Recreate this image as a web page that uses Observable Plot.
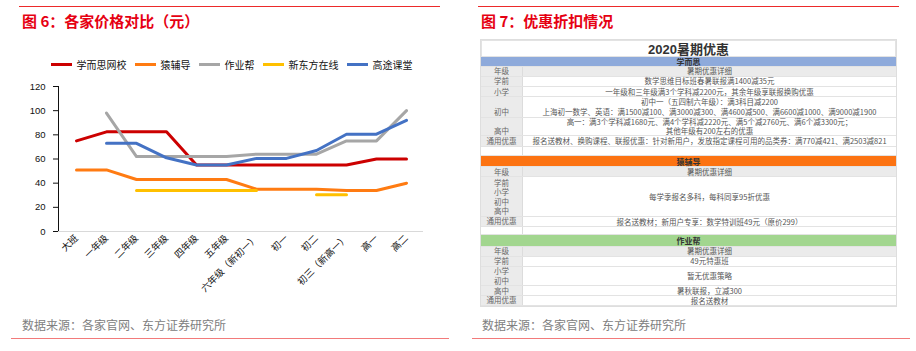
<!DOCTYPE html>
<html><head><meta charset="utf-8">
<script src="https://cdn.jsdelivr.net/npm/d3@7"></script>
<script src="https://cdn.jsdelivr.net/npm/@observablehq/plot@0.6"></script>
<style>
html,body{margin:0;padding:0;background:#fff;}
#root{position:relative;width:916px;height:351px;overflow:hidden;font-family:"Liberation Sans","Noto Sans CJK SC",sans-serif;}
.rule-top{position:absolute;height:1.5px;background:#ec2a2a;}
.rule-bot{position:absolute;height:1.5px;background:#f27a7a;}
.title{position:absolute;font-family:"Noto Sans CJK SC",sans-serif;font-weight:bold;font-size:15px;color:#e60012;line-height:20px;white-space:nowrap;}
.src{position:absolute;font-family:"Noto Sans CJK SC",sans-serif;font-size:12px;color:#808080;line-height:16px;white-space:nowrap;}
#legend{position:absolute;left:51px;top:57.5px;height:14px;display:flex;align-items:center;font-family:"Noto Sans CJK SC",sans-serif;font-size:10px;color:#111;white-space:nowrap;}
#legend .it{display:flex;align-items:center;margin-right:8.5px;}
#legend .sw{width:21px;height:3px;margin-right:4.5px;}
#chart{position:absolute;left:0;top:76px;}
#tbl{position:absolute;left:481px;top:40px;width:415px;font-family:"Noto Sans CJK SC",sans-serif;}
.row{position:absolute;left:0;width:415px;box-sizing:border-box;border-bottom:1px solid #e3e3e3;}
.lab{position:absolute;left:0;top:0;bottom:0;width:42px;background:#ebebeb;color:#666;font-size:7.5px;display:flex;flex-direction:column;justify-content:flex-end;align-items:center;line-height:9.5px;border-right:1px solid #dcdcdc;box-sizing:border-box;}
.lab.multi{justify-content:center;}
.lab div{height:9.5px;line-height:9.5px;}
.cnt{position:absolute;left:42px;right:0;top:0;bottom:0;color:#555;font-size:7.5px;display:flex;flex-direction:column;justify-content:center;align-items:center;line-height:9.5px;text-align:center;white-space:nowrap;}
.hdr{display:flex;align-items:center;justify-content:center;font-size:8px;font-weight:bold;color:#333;}
</style></head>
<body><div id="root">
  <div class="rule-top" style="left:19px;top:5.5px;width:421px;"></div>
  <div class="rule-top" style="left:478px;top:5.5px;width:421px;"></div>
  <div class="title" style="left:22px;top:10.5px;">图 6：各家价格对比（元）</div>
  <div class="title" style="left:481px;top:10.5px;">图 7：优惠折扣情况</div>
  <div id="legend"></div>
  <div id="chart"></div>
  <div id="tbl"></div>
  <div class="src" style="left:22px;top:317px;">数据来源：各家官网、东方证券研究所</div>
  <div class="src" style="left:482px;top:317px;">数据来源：各家官网、东方证券研究所</div>
  <div class="rule-bot" style="left:11px;top:337.5px;width:438px;"></div>
  <div class="rule-bot" style="left:472px;top:337.5px;width:438px;"></div>
</div>
<script>
// ---------- chart data ----------
const grades = ["大班","一年级","二年级","三年级","四年级","五年级","六年级（新初一）","初一","初二","初三（新高一）","高一","高二"];
const seriesNames = ["学而思网校","猿辅导","作业帮","新东方在线","高途课堂"];
const xueersi   = [75, 82.5, 82.5, 82.5, 55, 55, 55, 55, 55, 55, 60, 60];
const yuanfudao = [51, 51, 43, 43, 43, 43, 35, 35, 35, 34, 34, 40];
const zuoyebang = [null, 98, 62, 62, 62, 62, 64, 64, 64, 75, 75, 100];
const xdf       = [null, null, 34, 34, 34, 34, 34, null, 30.5, 30.5, null, null];
const gaotu     = [null, 73, 73, 61, 55, 55, 60.5, 60.5, 67, 80.5, 80.5, 92];
const yTicks = [0, 20, 40, 60, 80, 100, 120];
const seriesColors = ["#cc0000", "#ff7b12", "#a6a6a6", "#ffc000", "#4472c4"];

// ---------- table data ----------
const tableTitle = "2020暑期优惠";
const brands = ["学而思", "猿辅导", "作业帮"];
const headLabel = ["年级", "暑期优惠详细"];
const xesRows = [
  [["学前"], ["数学思维目标班春暑联报满1400减35元"]],
  [["小学"], ["一年级和三年级满3个学科减2200元，其余年级享联报换购优惠"]],
  [["初中"], ["初中一（五四制六年级）：满3科目减2200", "上海初一数学、英语：满1500减100、满3000减300、满4600减500、满6600减1000、满9000减1900"]],
  [["高中"], ["高一：满3个学科减1680元、满4个学科减2220元、满5个减2760元、满6个减3300元；", "其他年级有200左右的优惠"]],
  [["通用优惠"], ["报名送教材、换购课程、联报优惠：针对新用户，发放指定课程可用的品类券：满770减421、满2503减821"]]
];
const yfdRows = [
  [["学前","小学","初中","高中"], ["每学季报名多科，每科同享95折优惠"]],
  [["通用优惠"], ["报名送教材；新用户专享：数学特训班49元（原价299）"]]
];
const zybRows = [
  [["学前"], ["49元特惠班"]],
  [["小学","初中"], ["暂无优惠策略"]],
  [["高中"], ["暑秋联报，立减300"]],
  [["通用优惠"], ["报名送教材"]]
];

// ---------- legend ----------
const legend = document.getElementById("legend");
seriesNames.forEach((n, i) => {
  const it = document.createElement("div"); it.className = "it";
  const sw = document.createElement("div"); sw.className = "sw"; sw.style.background = seriesColors[i];
  const tx = document.createElement("span"); tx.textContent = n;
  it.append(sw, tx); legend.append(it);
});

// ---------- chart ----------
const seriesValues = [xueersi, yuanfudao, zuoyebang, xdf, gaotu];
const data = seriesNames.flatMap((s, i) => grades.map((g, j) => ({series: s, grade: g, value: seriesValues[i][j]})));

const chart = Plot.plot({
  width: 440, height: 225,
  marginLeft: 58, marginRight: 17, marginTop: 10, marginBottom: 70,
  style: {fontFamily: '"Liberation Sans","Noto Sans CJK SC",sans-serif', fontSize: "9.5px", color: "#111", background: "transparent", overflow: "visible"},
  x: {type: "point", domain: grades, padding: 0.5, label: null, tickSize: 0, tickRotate: -45, tickPadding: 5},
  y: {domain: [0, 120], ticks: yTicks, label: null, tickSize: 5, tickPadding: 8, line: true},
  color: {domain: seriesNames, range: seriesColors},
  marks: [
    Plot.ruleY([0], {stroke: "#d9d9d9", strokeWidth: 1}),
    Plot.lineY(data, {x: "grade", y: "value", z: "series", stroke: "series", strokeWidth: 3, strokeLinejoin: "round", strokeLinecap: "round"})
  ]
});
document.getElementById("chart").append(chart);

// ---------- table ----------
const tbl = document.getElementById("tbl");
let yPos = 0;
function addRow(h, build) {
  const r = document.createElement("div"); r.className = "row";
  r.style.top = yPos + "px"; r.style.height = h + "px";
  build(r); tbl.append(r); yPos += h;
}
function cellRow(h, labels, texts, gray) {
  addRow(h, r => {
    if (gray) r.style.background = "#ebebeb";
    const l = document.createElement("div"); l.className = "lab" + (labels.length > 1 ? " multi" : "");
    labels.forEach(t => { const d = document.createElement("div"); d.textContent = t; l.append(d); });
    const c = document.createElement("div"); c.className = "cnt";
    texts.forEach(t => { const d = document.createElement("div"); d.textContent = t; c.append(d); });
    r.append(l, c);
  });
}
function headerRow(h, text, bg) {
  addRow(h, r => { r.classList.add("hdr"); r.style.background = bg; r.textContent = text; });
}
function blankRow(h) {
  addRow(h, r => { const c = document.createElement("div"); c.className = "lab"; c.style.background = "#fff"; r.append(c); });
}
// title row
addRow(17, r => {
  r.style.cssText += "display:flex;align-items:center;justify-content:center;font-size:13px;font-weight:bold;color:#333;border:1px solid #e3e3e3;font-family:'Liberation Sans','Noto Sans CJK SC',sans-serif;";
  r.textContent = tableTitle;
});
const brandBg = ["#8eaadb", "#fc7312", "#a2d68f"];
const sections = [xesRows, yfdRows, zybRows];
const rowHeights = [
  [10, 10.5, 20.5, 18.5, 10.5],
  [40, 9.5],
  [10, 19, 10.5, 9.5]
];
const headerH = [9.5, 11, 12];
const blankH = [9.5, 8];
sections.forEach((rows, s) => {
  headerRow(headerH[s], brands[s], brandBg[s]);
  cellRow(10, [headLabel[0]], [headLabel[1]], true);
  rows.forEach((row, k) => cellRow(rowHeights[s][k], row[0], row[1], false));
  if (s < blankH.length) blankRow(blankH[s]);
});
tbl.style.height = yPos + "px";
tbl.style.outline = "1px solid #dedede";
</script>
</body></html>
